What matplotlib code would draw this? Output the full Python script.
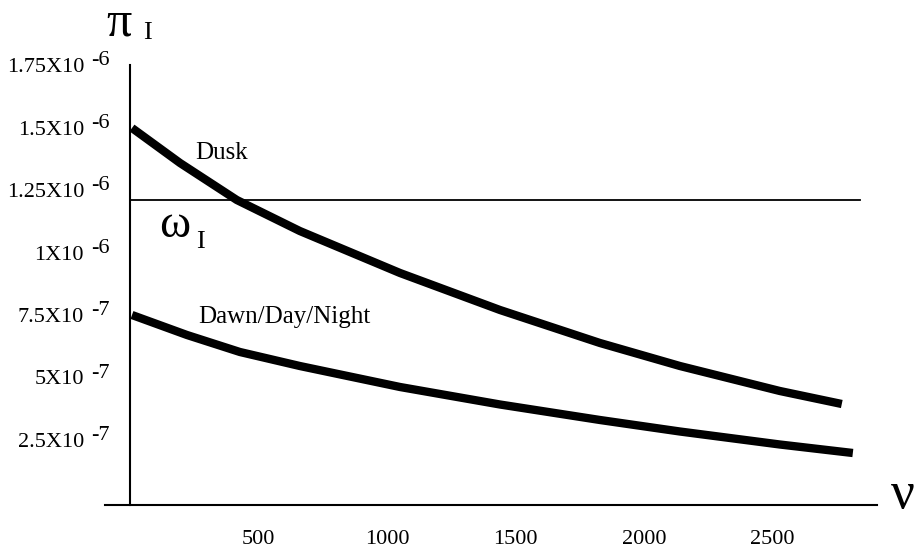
import matplotlib
matplotlib.use("Agg")
import matplotlib.pyplot as plt
import matplotlib.transforms as mtransforms

# values
dusk_x = [8, 195, 416, 661, 1051, 1440, 1829, 2140, 2529, 2770]
dusk_y = [1.508e-6, 1.368e-6, 1.22e-6, 1.096e-6, 0.928e-6, 0.78e-6, 0.648e-6, 0.556e-6, 0.456e-6, 0.404e-6]

dawn_x = [8, 222, 428, 661, 1051, 1440, 1829, 2140, 2529, 2813]
dawn_y = [0.76e-6, 0.68e-6, 0.612e-6, 0.556e-6, 0.472e-6, 0.402e-6, 0.34e-6, 0.294e-6, 0.242e-6, 0.208e-6]

omega_level = 1.22e-6
omega_x = [0, 2840]

x_ticks = [500, 1000, 1500, 2000, 2500]
y_ticks = [1.75e-6, 1.5e-6, 1.25e-6, 1e-6, 7.5e-7, 5e-7, 2.5e-7]
y_mant = ["1.75X10", "1.5X10", "1.25X10", "1X10", "7.5X10", "5X10", "2.5X10"]
y_exp = ["-6", "-6", "-6", "-6", "-7", "-7", "-7"]

serif = "Liberation Serif"

fig = plt.figure(figsize=(9.21, 5.53), dpi=100)
# axes box: x from pixel 105 to 877, y from pixel 65 to 505
ax = fig.add_axes([105 / 921, 1 - 505 / 553, (877 - 105) / 921, (505 - 65) / 553])
ax.set_xlim(-97, 2907)
ax.set_ylim(0, 1.76e-6)

for s in ["top", "right"]:
    ax.spines[s].set_visible(False)
ax.spines["left"].set_position(("data", 0))
ax.spines["left"].set_linewidth(1.5)
ax.spines["bottom"].set_linewidth(1.5)

# curves
ax.plot(dusk_x, dusk_y, color="black", lw=6, solid_capstyle="butt", solid_joinstyle="round")
ax.plot(dawn_x, dawn_y, color="black", lw=6, solid_capstyle="butt", solid_joinstyle="round")
ax.plot(omega_x, [omega_level, omega_level], color="black", lw=1.3)

# x ticks
ax.set_xticks(x_ticks)
ax.set_xticklabels([str(v) for v in x_ticks], fontsize=16, family=serif)
ax.tick_params(axis="x", length=0, pad=18)

# y ticks drawn as text so the exponent can sit apart
ax.set_yticks([])
trans = mtransforms.blended_transform_factory(fig.transFigure, ax.transData)
exp_trans = mtransforms.offset_copy(trans, fig=fig, y=7, units="dots")
for v, m, e in zip(y_ticks, y_mant, y_exp):
    fig.text(84 / 921, v, m, transform=trans, ha="right", va="center",
             fontsize=16, family=serif)
    fig.text(91 / 921, v, e, transform=exp_trans, ha="left", va="center",
             fontsize=16, family=serif)

# curve labels
ax.text(255, 1.41e-6, "Dusk", fontsize=18, family=serif, ha="left", va="center")
ax.text(265, 0.752e-6, "Dawn/Day/Night", fontsize=18, family=serif, ha="left", va="center")

# axis symbols
fig.text(106 / 921, 1 - 23 / 553, "\u03c0", fontsize=36, family=serif, ha="left", va="center")
fig.text(143 / 921, 1 - 33 / 553, "I", fontsize=19, family=serif, ha="left", va="center")
fig.text(159 / 921, 1 - 226 / 553, "\u03c9", fontsize=34, family=serif, ha="left", va="center")
fig.text(196 / 921, 1 - 242 / 553, "I", fontsize=19, family=serif, ha="left", va="center")
fig.text(891 / 921, 1 - 495 / 553, "\u03bd", fontsize=38, family=serif, ha="left", va="center")

fig.savefig("out.png", dpi=100)
